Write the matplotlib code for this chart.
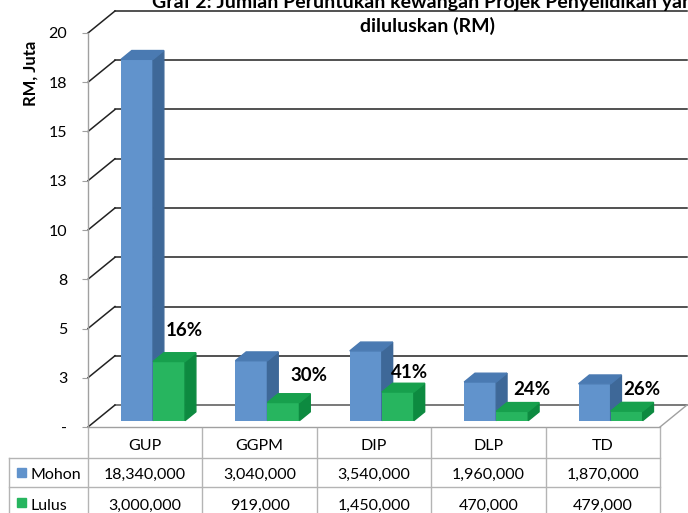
import numpy as np
import matplotlib.pyplot as plt
from matplotlib.patches import Polygon, Rectangle

plt.rcParams['font.family'] = ['Lato', 'DejaVu Sans']

cats = ['GUP', 'GGPM', 'DIP', 'DLP', 'TD']
mohon = [18340000, 3040000, 3540000, 1960000, 1870000]
lulus = [3000000, 919000, 1450000, 470000, 479000]
yticks = [0, 2.5, 5, 7.5, 10, 12.5, 15, 17.5, 20]
ytick_labels = ['-', '3', '5', '8', '10', '13', '15', '18', '20']
title1 = 'Graf 2: Jumlah Peruntukan kewangan Projek Penyelidikan yang'
title2 = 'diluluskan (RM)'

# where the percent labels sit, pixels right / up from the green bar top
pct_off = [(15, 31), (25, 27), (12, 20), (20, 22), (15, 22)]

W, H = 688, 513
fig = plt.figure(figsize=(W / 100, H / 100), dpi=100)

# front plane of the chart in pixels
x0, x1 = 88, 660
y0, y1 = 427, 33
ax = fig.add_axes([x0 / W, (H - y0) / H, (x1 - x0) / W, (y0 - y1) / H])
n = len(cats)
ax.set_xlim(0, n)
ax.set_ylim(0, 20)
pxx = (x1 - x0) / n
pxy = (y0 - y1) / 20.0

# depth of the 3d box
DX = 27 / pxx
DY = 22 / pxy

for s in ax.spines.values():
    s.set_visible(False)
ax.set_xticks([])
ax.set_yticks(yticks)
ax.set_yticklabels(ytick_labels, fontsize=11.5)
ax.tick_params(axis='y', length=4, color='#a0a0a0', pad=11)
ax.plot([0, 0], [0, 20], color='#a0a0a0', lw=1, clip_on=False)

# back wall grid and left wall
for v in yticks:
    col = '#222222' if v > 0 else '#555555'
    ax.plot([DX, n + DX], [v + DY, v + DY], color=col, lw=1.1, clip_on=False, zorder=1)
    ax.plot([0, DX], [v, v + DY], color='#222222', lw=1.1, clip_on=False, zorder=1)

# floor
ax.plot([0, n], [0, 0], color='#a0a0a0', lw=1, clip_on=False, zorder=1)
ax.plot([n, n + DX], [0, DY], color='#a0a0a0', lw=1, clip_on=False, zorder=1)

mv = np.array(mohon) / 1e6
lv = np.array(lulus) / 1e6
bw = 0.28
f0 = 0.29
fd = 0.40
bx = f0 * DX
by = f0 * DY


def bar3d(xl, v, front, side, top):
    ax.bar(xl + bx, v, width=bw, bottom=by, align='edge', color=front, zorder=3, clip_on=False)
    xr = xl + bx + bw
    ax.add_patch(Polygon([(xr, by), (xr + fd * DX, by + fd * DY),
                          (xr + fd * DX, by + v + fd * DY), (xr, by + v)],
                         closed=True, color=side, zorder=3, clip_on=False))
    ax.add_patch(Polygon([(xl + bx, by + v), (xr, by + v),
                          (xr + fd * DX, by + v + fd * DY), (xl + bx + fd * DX, by + v + fd * DY)],
                         closed=True, color=top, zorder=3, clip_on=False))


for i in range(n):
    bar3d(i + 0.5 - bw, mv[i], '#6193cc', '#3e6898', '#4a7ab2')
    bar3d(i + 0.5, lv[i], '#27b55f', '#0d8a40', '#17a04d')
    pct = lulus[i] / mohon[i] * 100
    xc = i + 0.5 + bw / 2 + bx
    ax.annotate('%d%%' % round(pct), (xc, by + lv[i]), xytext=(pct_off[i][0] * 0.72, pct_off[i][1] * 0.72),
                textcoords='offset points', ha='center', va='center',
                fontsize=13.5, fontweight='bold', zorder=5, annotation_clip=False)

# data table below
ty0, ty1 = 428, 516.5
tb = fig.add_axes([x0 / W, (H - ty1) / H, (x1 - x0) / W, (ty1 - ty0) / H])
tb.set_xlim(0, n)
tb.set_ylim(3, 0)
tb.axis('off')
lc = '#b4b4b4'
xl = (9 - x0) / pxx
for i in range(n + 1):
    tb.plot([i, i], [0, 3], color=lc, lw=1, clip_on=False)
for r in [1, 2, 3]:
    tb.plot([xl, n], [r, r], color=lc, lw=1, clip_on=False)
tb.plot([xl, xl], [1, 3], color=lc, lw=1, clip_on=False)

for i in range(n):
    tb.text(i + 0.5, 0.62, cats[i], ha='center', va='center', fontsize=11.5)
    tb.text(i + 0.5, 1.6, f'{mohon[i]:,}', ha='center', va='center', fontsize=11.5)
    tb.text(i + 0.5, 2.65, f'{lulus[i]:,}', ha='center', va='center', fontsize=11.5)

kw = 9 / pxx
kh = 9 / ((ty1 - ty0) / 3)
for r, (lab, c) in enumerate([('Mohon', '#6193cc'), ('Lulus', '#27b55f')]):
    tb.add_patch(Rectangle(((17 - x0) / pxx, r + 1.52 - kh / 2), kw, kh, color=c, clip_on=False))
    tb.text((30 - x0) / pxx, r + 1.6 + 0.05 * r, lab, ha='left', va='center', fontsize=11.5)

fig.text(31 / W, 1 - 73 / H, 'RM, Juta', rotation=90, ha='center', va='center',
         fontsize=12, fontweight='bold')
fig.text(428 / W, 1 - 8 / H, title1, ha='center', va='baseline', fontsize=14, fontweight='bold')
fig.text(428 / W, 1 - 32 / H, title2, ha='center', va='baseline', fontsize=14, fontweight='bold')

fig.savefig('out.png', dpi=100)
